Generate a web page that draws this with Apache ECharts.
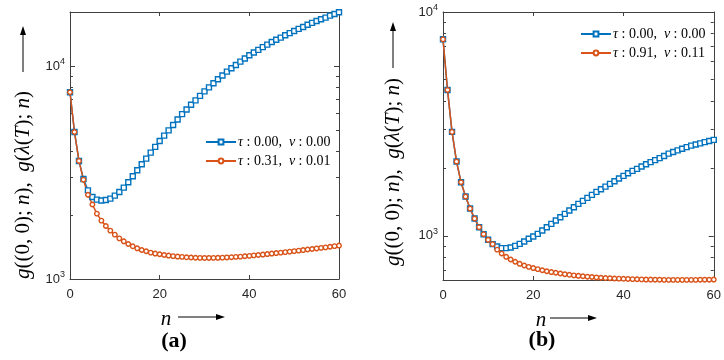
<!DOCTYPE html>
<html>
<head>
<meta charset="utf-8">
<script src="https://cdn.jsdelivr.net/npm/echarts@6/dist/echarts.min.js"></script>
<style>
html, body { margin: 0; padding: 0; background: #fff; }
#main { width: 724px; height: 360px; }
</style>
</head>
<body>
<div id="main"></div>
<script>
// n = 0 .. 60
var nValues = [0, 1, 2, 3, 4, 5, 6, 7, 8, 9, 10, 11, 12, 13, 14, 15, 16, 17, 18, 19, 20,
  21, 22, 23, 24, 25, 26, 27, 28, 29, 30, 31, 32, 33, 34, 35, 36, 37, 38, 39, 40,
  41, 42, 43, 44, 45, 46, 47, 48, 49, 50, 51, 52, 53, 54, 55, 56, 57, 58, 59, 60];

// panel (a)
var blueA = [7550, 4910, 3590, 2950, 2610, 2430, 2362, 2338, 2350, 2388, 2466,
  2564, 2690, 2849, 3039, 3243, 3461, 3681, 3926, 4178, 4457,
  4721, 5000, 5297, 5623, 5957, 6266, 6592, 6918, 7261, 7621,
  7962, 8318, 8690, 9057, 9441, 9795, 10139, 10520, 10889, 11272,
  11614, 11940, 12303, 12647, 13002, 13335, 13646, 13996, 14322, 14655,
  14997, 15311, 15668, 15996, 16331, 16634, 16943, 17298, 17620, 17947];
var orangeA = [7550, 4910, 3590, 2930, 2490, 2240, 2030, 1882, 1775, 1689, 1617,
  1553, 1504, 1461, 1425, 1394, 1369, 1350, 1331, 1317, 1307,
  1297, 1289, 1281, 1275, 1270, 1265, 1262, 1259, 1257, 1256,
  1256, 1257, 1258, 1260, 1263, 1266, 1270, 1274, 1279, 1285,
  1291, 1297, 1303, 1310, 1317, 1324, 1331, 1338, 1345, 1352,
  1360, 1368, 1376, 1384, 1392, 1400, 1409, 1418, 1427, 1436];

// panel (b)
var blueB = [7550, 4485, 2913, 2147, 1736, 1498, 1324, 1195, 1093, 1017, 960,
  918, 896, 881, 881, 887, 902, 921, 943, 970, 993,
  1021, 1056, 1093, 1131, 1171, 1211, 1254, 1297, 1343, 1390,
  1433, 1478, 1524, 1572, 1615, 1660, 1707, 1754, 1803, 1853,
  1905, 1951, 1991, 2040, 2090, 2135, 2180, 2225, 2275, 2330,
  2370, 2410, 2450, 2490, 2530, 2560, 2590, 2622, 2652, 2683];
var orangeB = [7550, 4485, 2913, 2147, 1736, 1498, 1324, 1195, 1093, 1017, 960,
  918, 868, 834, 806, 784, 766, 750, 737, 727, 718,
  710, 702, 695, 689, 684, 679, 674, 670, 666, 663,
  660, 657, 655, 652, 650, 648, 647, 645, 644, 643,
  642, 641, 640, 639, 638, 638, 637, 637, 636, 636,
  636, 636, 636, 636, 636, 636, 637, 637, 637, 638];

var namesA = ['τ : 0.00,  ν : 0.00', 'τ : 0.31,  ν : 0.01'];
var namesB = ['τ : 0.00,  ν : 0.00', 'τ : 0.91,  ν : 0.11'];

var xTicks = [0, 20, 40, 60];
var majorTicks = [1000, 10000];
var minorTicksA = [2000, 3000, 4000, 5000, 6000, 7000, 8000, 9000];
var minorTicksB = [700, 800, 900, 2000, 3000, 4000, 5000, 6000, 7000, 8000, 9000];

var BLUE = '#0072BD', ORANGE = '#D95319', AXIS = '#404040';
var SERIF = '"Liberation Serif", "DejaVu Serif", serif';
var SANS = '"Liberation Sans", Arial, sans-serif';

var myChart = echarts.init(document.getElementById('main'));

function pairs(ys) {
  return nValues.map(function (n, i) { return [n, ys[i]]; });
}

function xAxes(g) {
  var base = {
    gridIndex: g, type: 'value', min: 0, max: 60, interval: 20,
    splitLine: { show: false },
    axisLine: { show: true, onZero: false, lineStyle: { color: AXIS, width: 1 } },
    axisTick: { show: true, inside: true, length: 4, lineStyle: { color: AXIS } }
  };
  return [
    echarts.util.merge({
      position: 'bottom',
      axisLabel: {
        customValues: xTicks, margin: 9,
        fontFamily: SANS, fontSize: 13, color: '#262626'
      }
    }, base, true),
    echarts.util.merge({ position: 'top', axisLabel: { show: false } }, base, true)
  ];
}

function yAxes(g, min, max, minor) {
  function one(pos, ticks, len, labels, line) {
    return {
      gridIndex: g, type: 'log', logBase: 10, min: min, max: max, position: pos,
      splitLine: { show: false },
      axisLine: { show: line, onZero: false, lineStyle: { color: AXIS, width: 1 } },
      axisTick: { show: true, inside: true, length: len, customValues: ticks, lineStyle: { color: AXIS } },
      axisLabel: labels ? {
        customValues: majorTicks, margin: 5,
        formatter: function (v) {
          return '{b|10}{s|' + Math.round(Math.log(v) / Math.LN10) + '}';
        },
        rich: {
          b: { fontFamily: SANS, fontSize: 13, color: '#262626', lineHeight: 18, verticalAlign: 'middle' },
          s: { fontFamily: SANS, fontSize: 9, color: '#262626', lineHeight: 18, verticalAlign: 'top' }
        }
      } : { show: false }
    };
  }
  return [
    one('left', majorTicks, 5, true, true),
    one('left', minor, 3, false, false),
    one('right', majorTicks, 5, false, true),
    one('right', minor, 3, false, false)
  ];
}

function lineSeries(name, data, color, symbol, size, xi, yi) {
  return {
    name: name, type: 'line', data: pairs(data),
    xAxisIndex: xi, yAxisIndex: yi,
    symbol: symbol, symbolSize: size, showAllSymbol: true,
    lineStyle: { color: color, width: 1.5 },
    itemStyle: { color: '#fff', borderColor: color, borderWidth: 1.4 },
    emphasis: { disabled: true },
    animation: false
  };
}

function legend(names, left, top) {
  return {
    data: names, left: left, top: top, orient: 'vertical',
    itemWidth: 30, itemHeight: 6, itemGap: 5, selectedMode: false,
    formatter: function (name) { return name.replace(/([τν])/g, '{i|$1}'); },
    textStyle: {
      fontFamily: SERIF, fontSize: 14, color: '#000', padding: [0, 0, 0, -3],
      rich: { i: { fontFamily: SERIF, fontSize: 14, fontStyle: 'italic', color: '#000' } }
    }
  };
}

function yLabel(x, y) {
  return {
    type: 'text', x: x, y: y, rotation: Math.PI / 2,
    style: {
      text: '{i|g}((0, 0); {i|n}),  {i|g}({i|λ}({i|T}); {i|n})',
      align: 'center', verticalAlign: 'middle',
      fontFamily: SERIF, fontSize: 21, fill: '#000',
      rich: { i: { fontFamily: SERIF, fontSize: 21, fontStyle: 'italic', fill: '#000' } }
    }
  };
}

function upArrow(x, y1, y2) {
  return [
    { type: 'line', shape: { x1: x, y1: y1, x2: x, y2: y2 + 6 }, style: { stroke: '#000', lineWidth: 1 } },
    { type: 'polygon', shape: { points: [[x, y2], [x - 3, y2 + 9], [x + 3, y2 + 9]] }, style: { fill: '#000' } }
  ];
}

function rightArrow(y, x1, x2) {
  return [
    { type: 'line', shape: { x1: x1, y1: y, x2: x2 - 6, y2: y }, style: { stroke: '#000', lineWidth: 1 } },
    { type: 'polygon', shape: { points: [[x2, y], [x2 - 9, y - 3], [x2 - 9, y + 3]] }, style: { fill: '#000' } }
  ];
}

function plainText(text, x, y, size, style, weight) {
  return {
    type: 'text', x: x, y: y,
    style: {
      text: text, align: 'center', verticalAlign: 'middle',
      fontFamily: SERIF, fontSize: size, fontStyle: style, fontWeight: weight, fill: '#000'
    }
  };
}

var option = {
  backgroundColor: '#fff',
  animation: false,
  grid: [
    { left: 70, top: 12, width: 269, height: 267 },
    { left: 443, top: 12, width: 271, height: 268 }
  ],
  xAxis: xAxes(0).concat(xAxes(1)),
  yAxis: yAxes(0, 1000, 18000, minorTicksA).concat(yAxes(1, 635, 10000, minorTicksB)),
  legend: [legend(namesA, 200, 130), legend(namesB, 575, 22)],
  series: [
    lineSeries(namesA[0], blueA, BLUE, 'rect', 5, 0, 0),
    lineSeries(namesA[1], orangeA, ORANGE, 'circle', 4.5, 0, 0),
    lineSeries(namesB[0], blueB, BLUE, 'rect', 5, 2, 4),
    lineSeries(namesB[1], orangeB, ORANGE, 'circle', 4.5, 2, 4)
  ],
  graphic: [
    yLabel(23, 185),
    yLabel(393, 172),
    plainText('n', 166, 319, 21, 'italic', 'normal'),
    plainText('n', 541, 320, 21, 'italic', 'normal'),
    plainText('(a)', 174, 341, 22, 'normal', 'bold'),
    plainText('(b)', 542, 340, 22, 'normal', 'bold')
  ].concat(upArrow(23, 72, 26), upArrow(393, 68, 22), rightArrow(317, 178, 225), rightArrow(318, 550, 597))
};

myChart.setOption(option);
</script>
</body>
</html>
